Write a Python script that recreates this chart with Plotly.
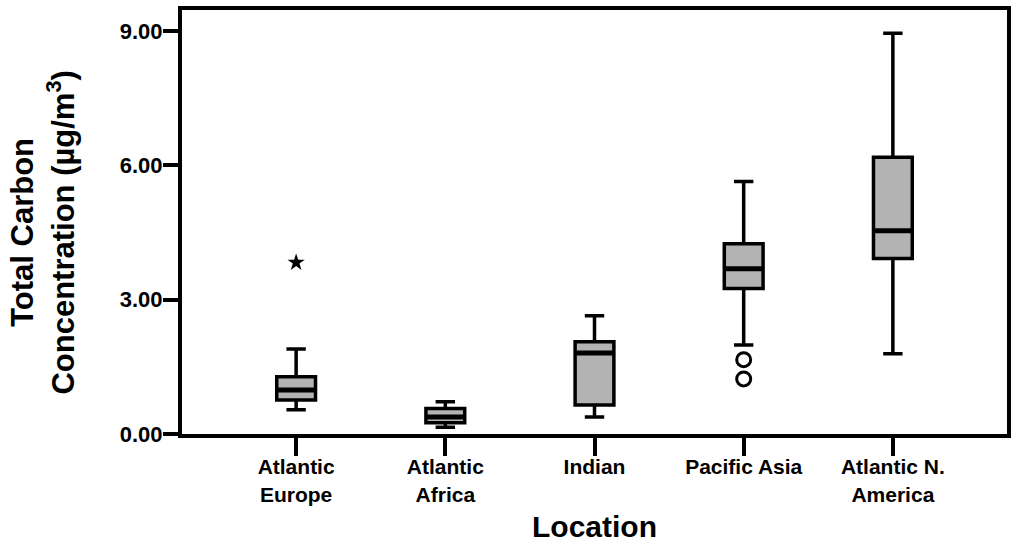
import plotly.graph_objects as go

# ---- data ----
locations = ["Atlantic<br>Europe", "Atlantic<br>Africa", "Indian", "Pacific Asia", "Atlantic N.<br>America"]
positions = [0, 1, 2, 3, 4]
lower_whisker = [0.54, 0.15, 0.38, 1.99, 1.79]
q1 = [0.76, 0.25, 0.65, 3.25, 3.92]
median = [0.98, 0.38, 1.81, 3.69, 4.54]
q3 = [1.28, 0.57, 2.06, 4.25, 6.18]
upper_whisker = [1.90, 0.72, 2.64, 5.64, 8.95]

extreme_x = [0]
extreme_y = [3.83]
outlier_x = [3, 3]
outlier_y = [1.66, 1.23]

y_ticks = [0, 3, 6, 9]
y_ticktext = ["0.00", "3.00", "6.00", "9.00"]

y_title = "<b>Total Carbon<br>Concentration (µg/m<sup>3</sup>)</b>"
x_title = "<b>Location</b>"

FONT = "Liberation Sans, Arial, sans-serif"
BOX_W = 0.26

fig = go.Figure()
fig.add_trace(go.Box(
    x=positions,
    q1=q1, median=median, q3=q3,
    lowerfence=lower_whisker, upperfence=upper_whisker,
    width=BOX_W,
    whiskerwidth=0.5,
    fillcolor="#b3b3b3",
    line=dict(color="black", width=3.5),
    boxpoints=False,
    showlegend=False,
    hoverinfo="skip",
))
# thicker median bars, as in the reference
mx, my = [], []
for p, m in zip(positions, median):
    mx += [p - BOX_W / 2, p + BOX_W / 2, None]
    my += [m, m, None]
fig.add_trace(go.Scatter(
    x=mx, y=my, mode="lines", line=dict(color="black", width=5),
    showlegend=False, hoverinfo="skip",
))
fig.add_trace(go.Scatter(
    x=extreme_x, y=extreme_y, mode="markers",
    marker=dict(symbol="star", size=13, color="black", line=dict(width=0)),
    showlegend=False, hoverinfo="skip",
))
fig.add_trace(go.Scatter(
    x=outlier_x, y=outlier_y, mode="markers",
    marker=dict(symbol="circle-open", size=14, color="black", line=dict(width=3, color="black")),
    showlegend=False, hoverinfo="skip",
))

fig.update_layout(
    width=1013, height=544,
    margin=dict(l=182, r=6, t=10, b=110),
    paper_bgcolor="white", plot_bgcolor="white",
    font=dict(family=FONT, color="black"),
    showlegend=False,
    annotations=[dict(
        text=y_title, textangle=-90,
        xref="paper", yref="paper", x=0, y=0.475,
        xanchor="center", yanchor="middle", xshift=-139,
        showarrow=False, align="center",
        font=dict(size=31, family=FONT, color="black"),
    )],
)
fig.update_xaxes(
    range=[-0.765, 4.765], automargin=False,
    tickmode="array", tickvals=positions, ticktext=["<b>%s</b>" % t for t in locations],
    tickfont=dict(size=21, family=FONT, color="black"),
    ticks="outside", ticklen=18, tickwidth=4, tickcolor="black",
    ticklabelstandoff=-7,
    showline=True, linewidth=4, linecolor="black", mirror=True,
    showgrid=False, zeroline=False,
    title=dict(text=x_title, font=dict(size=30, family=FONT, color="black"), standoff=12),
)
fig.update_yaxes(
    range=[0, 9.47], automargin=False,
    tickmode="array", tickvals=y_ticks, ticktext=["<b>%s</b>" % t for t in y_ticktext],
    tickfont=dict(size=22, family=FONT, color="black"),
    ticks="outside", ticklen=15, tickwidth=4, tickcolor="black",
    ticklabelstandoff=-4,
    showline=True, linewidth=4, linecolor="black", mirror=True,
    showgrid=False, zeroline=False,
)

fig.write_html("out.html")
